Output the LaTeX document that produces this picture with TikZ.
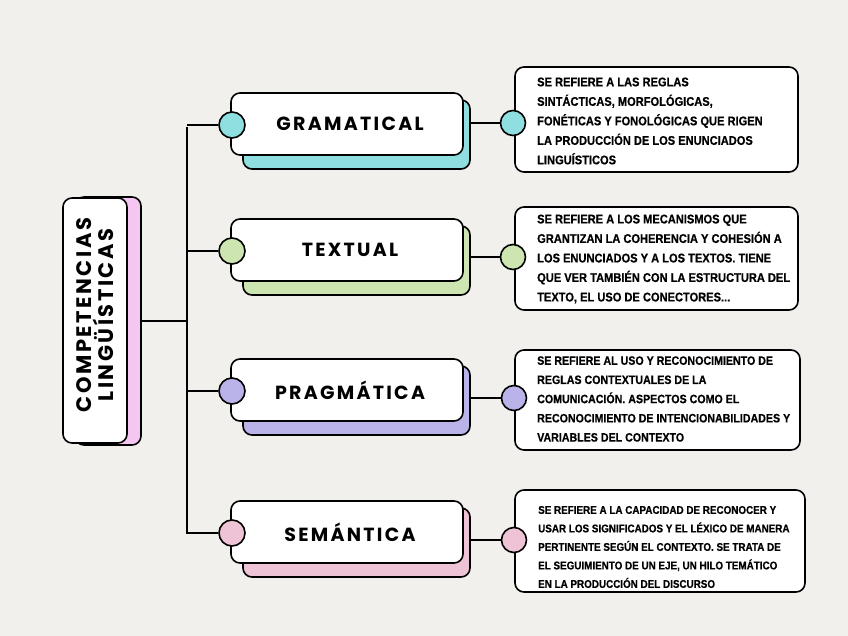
\documentclass[tikz,border=0pt]{standalone}
\usepackage{fontspec}
\newfontfamily\descfont[FakeStretch=0.88,FakeBold=0.6]{Liberation Sans}
\newfontfamily\titlefont[LetterSpace=12]{Poppins}
\definecolor{bgcol}{HTML}{F2F0EC}
\definecolor{cteal}{HTML}{8FDFE0}
\definecolor{cgreen}{HTML}{CDE5B0}
\definecolor{cpurple}{HTML}{B9B3E9}
\definecolor{cpink}{HTML}{EEC3D6}
\definecolor{cleft}{HTML}{F6C6F3}
\tikzset{
  box/.style={draw=black, line width=1.6pt, fill=#1, rounded corners=9pt, inner sep=0pt},
  dot/.style={circle, draw=black, line width=1.6pt, fill=#1, minimum size=26pt, inner sep=0pt},
  conn/.style={draw=black, line width=1.3pt},
  cattext/.style={font=\titlefont\bfseries\fontsize{19}{21}\selectfont, inner sep=0pt},
  desctext/.style={anchor=west, align=left, inner sep=0pt, font=\descfont\bfseries\fontsize{12.6}{19.5}\selectfont},
}
\begin{document}
\begin{tikzpicture}[x=1pt,y=-1pt]
\fill[bgcol] (0,0) rectangle (848,636);
\useasboundingbox (0,0) rectangle (848,636);

% left main node
\node[box=cleft, minimum width=66pt, minimum height=248pt] (lp) at (108,321) {};
\node[box=white, minimum width=64pt, minimum height=245pt] (lw) at (95,320.5) {};
\node[cattext, rotate=90, align=center, font=\titlefont\bfseries\fontsize{21}{22}\selectfont] (lt) at (95,315) {COMPETENCIAS\\LINGÜÍSTICAS};

% categories
\foreach \i/\cy/\col/\lab in {1/124/cteal/GRAMATICAL, 2/250/cgreen/TEXTUAL, 3/390/cpurple/PRAGMÁTICA, 4/532/cpink/SEMÁNTICA}{
  \node[box=\col, minimum width=227pt, minimum height=69pt] (s\i) at (356.5,\cy+10.5) {};
  \node[box=white, minimum width=232pt, minimum height=62pt] (w\i) at (347,\cy) {};
  \node[dot=\col] (c\i) at (232,\cy+1) {};
  \node[cattext] (t\i) at (350,\cy) {\lab};
}

% description boxes
\node[box=white, minimum width=283pt, minimum height=105pt] (d1) at (656.5,119.5) {};
\node[box=white, minimum width=283pt, minimum height=103pt] (d2) at (656.5,258.5) {};
\node[box=white, minimum width=285pt, minimum height=100pt] (d3) at (657.5,400) {};
\node[box=white, minimum width=290pt, minimum height=102pt] (d4) at (660,541) {};
\node[dot=cteal, minimum size=25pt] (e1) at (513,123) {};
\node[dot=cgreen, minimum size=25pt] (e2) at (513,257) {};
\node[dot=cpurple, minimum size=25pt] (e3) at (514,398) {};
\node[dot=cpink, minimum size=25pt] (e4) at (514,540) {};

\node[desctext] (x1) at (537,121) {SE REFIERE A LAS REGLAS\\SINTÁCTICAS, MORFOLÓGICAS,\\FONÉTICAS Y FONOLÓGICAS QUE RIGEN\\LA PRODUCCIÓN DE LOS ENUNCIADOS\\LINGUÍSTICOS};
\node[desctext] (x2) at (537,259) {SE REFIERE A LOS MECANISMOS QUE\\GRANTIZAN LA COHERENCIA Y COHESIÓN A\\LOS ENUNCIADOS Y A LOS TEXTOS. TIENE\\QUE VER TAMBIÉN CON LA ESTRUCTURA DEL\\TEXTO, EL USO DE CONECTORES...};
\node[desctext, font=\descfont\bfseries\fontsize{12.1}{19.2}\selectfont] (x3) at (537,399) {SE REFIERE AL USO Y RECONOCIMIENTO DE\\REGLAS CONTEXTUALES DE LA\\COMUNICACIÓN. ASPECTOS COMO EL\\RECONOCIMIENTO DE INTENCIONABILIDADES Y\\VARIABLES DEL CONTEXTO};
\node[desctext, font=\descfont\bfseries\fontsize{11.2}{18.5}\selectfont] (x4) at (538,547) {SE REFIERE A LA CAPACIDAD DE RECONOCER Y\\USAR LOS SIGNIFICADOS Y EL LÉXICO DE MANERA\\PERTINENTE SEGÚN EL CONTEXTO. SE TRATA DE\\EL SEGUIMIENTO DE UN EJE, UN HILO TEMÁTICO\\EN LA PRODUCCIÓN DEL DISCURSO};

% connectors
\coordinate (ttop) at (187,127);
\coordinate (tbot) at (187,534);
\draw[conn] (ttop) -- (tbot);
\draw[conn] (lp.east) -- (lp.east -| ttop);
\foreach \i in {1,2,3,4}{
  \draw[conn] (c\i.west) -- (c\i.west -| ttop);
  \draw[conn] (e\i.west) -- (e\i.west -| s\i.east);
}
\end{tikzpicture}
\end{document}
